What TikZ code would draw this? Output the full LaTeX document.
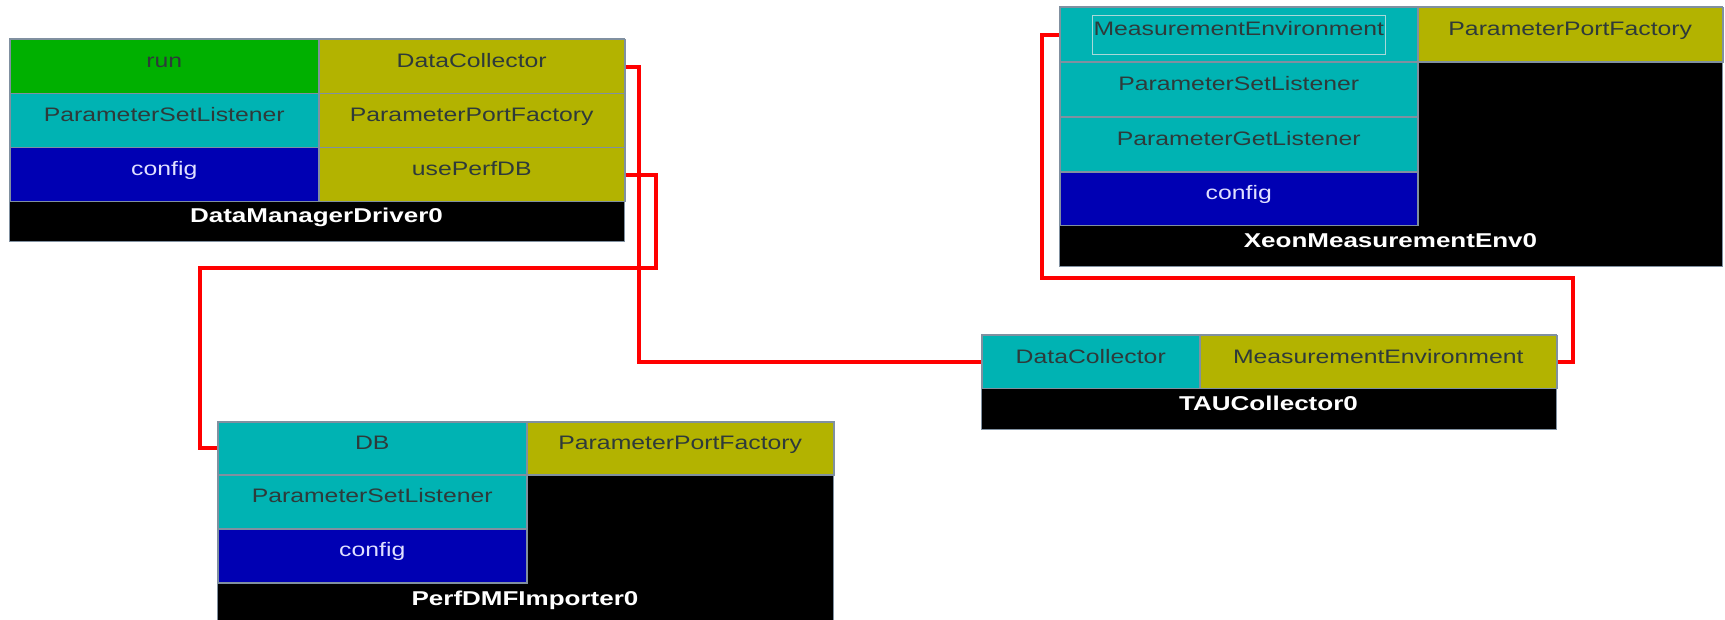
\documentclass[tikz,border=0pt]{standalone}
\usepackage{fontspec}
\setmainfont{Liberation Sans}[FakeStretch=1.27]
\newfontfamily\titlefont{Liberation Sans}[FakeStretch=1.3]

\definecolor{portgreen}{HTML}{00B000}
\definecolor{portolive}{HTML}{B3B300}
\definecolor{portteal}{HTML}{00B3B3}
\definecolor{portblue}{HTML}{0000B3}
\definecolor{edge}{HTML}{8090A0}
\definecolor{portdark}{HTML}{2E3A3A}
\definecolor{portlight}{HTML}{E0E0FF}
\definecolor{focusline}{HTML}{A8D8D8}
\definecolor{wirered}{HTML}{FF0000}

\begin{document}
\begin{tikzpicture}[x=1pt,y=-1pt,
  comp/.style={draw=edge, line width=1pt, fill=black},
  cell/.style={draw=edge, line width=1.5pt, anchor=north west, inner sep=0pt,
    text height=9pt, text depth=7pt,
    font=\fontsize{19.5}{20}\selectfont, text=portdark},
  provides/.style={cell, fill=portolive},
  uses/.style={cell, fill=portteal},
  gocell/.style={cell, fill=portgreen},
  cfgcell/.style={cell, fill=portblue, text=portlight},
  title/.style={text=white, font=\titlefont\fontsize{20}{20}\selectfont\bfseries, inner sep=0pt,
    text height=9pt, text depth=7pt},
  focus/.style={draw=focusline, line width=1pt, minimum width=293pt, minimum height=39pt, inner sep=0pt},
  wire/.style={draw=wirered, line width=4pt, line join=miter}
]
\useasboundingbox (0,0) rectangle (1725,620);

% ---------- DataManagerDriver0 ----------
\path[comp] (9,39) rectangle (624,242);
\node[gocell, minimum width=309pt, minimum height=54pt] (dmdRun) at (9,39) {run};
\node[provides, minimum width=306pt, minimum height=54pt] (dmdDC) at (318,39) {DataCollector};
\node[uses, minimum width=309pt, minimum height=54pt] (dmdPSL) at (9,93) {ParameterSetListener};
\node[provides, minimum width=306pt, minimum height=54pt] (dmdPPF) at (318,93) {ParameterPortFactory};
\node[cfgcell, minimum width=309pt, minimum height=54pt] (dmdCfg) at (9,147) {config};
\node[provides, minimum width=306pt, minimum height=54pt] (dmdUse) at (318,147) {usePerfDB};
\node[title] (dmdTitle) at (316.5,222) {DataManagerDriver0};

% ---------- XeonMeasurementEnv0 ----------
\path[comp] (1059,7) rectangle (1722,267);
\node[uses, minimum width=358pt, minimum height=54.5pt] (xmME) at (1059,7) {MeasurementEnvironment};
\node[focus] (xmFocus) at (xmME.center) {};
\node[provides, minimum width=305pt, minimum height=54.5pt] (xmPPF) at (1417,7) {ParameterPortFactory};
\node[uses, minimum width=358pt, minimum height=55pt] (xmPSL) at (1059,61.5) {ParameterSetListener};
\node[uses, minimum width=358pt, minimum height=55pt] (xmPGL) at (1059,116.5) {ParameterGetListener};
\node[cfgcell, minimum width=358pt, minimum height=53.5pt] (xmCfg) at (1059,171.5) {config};
\node[title] (xmTitle) at (1390.5,247) {XeonMeasurementEnv0};

% ---------- TAUCollector0 ----------
\path[comp] (981,335) rectangle (1556,429);
\node[uses, minimum width=218pt, minimum height=53pt] (tauDC) at (981,335) {DataCollector};
\node[provides, minimum width=357pt, minimum height=53pt] (tauME) at (1199,335) {MeasurementEnvironment};
\node[title] (tauTitle) at (1268.5,409) {TAUCollector0};

% ---------- PerfDMFImporter0 ----------
\path[comp] (217,421) rectangle (833,625);
\node[uses, minimum width=309pt, minimum height=53pt] (pfDB) at (217,421) {DB};
\node[provides, minimum width=307pt, minimum height=53pt] (pfPPF) at (526,421) {ParameterPortFactory};
\node[uses, minimum width=309pt, minimum height=54pt] (pfPSL) at (217,474) {ParameterSetListener};
\node[cfgcell, minimum width=309pt, minimum height=54pt] (pfCfg) at (217,528) {config};
\node[title] (pfTitle) at (525,604) {PerfDMFImporter0};

% ---------- connections ----------
\coordinate (dcRun) at (639,0);
\coordinate (dbBend) at (656,268);
\coordinate (dbDrop) at (200,0);
\coordinate (meBend) at (1573,278);
\coordinate (meRise) at (1042,0);

\draw[wire] (dmdDC.east) -| (dcRun |- tauDC.west) -- (tauDC.west);
\draw[wire] (dmdUse.east) -| (dbBend) -| (dbDrop |- pfDB.west) -- (pfDB.west);
\draw[wire] (tauME.east) -| (meBend) -| (meRise |- xmME.west) -- (xmME.west);
\end{tikzpicture}
\end{document}
